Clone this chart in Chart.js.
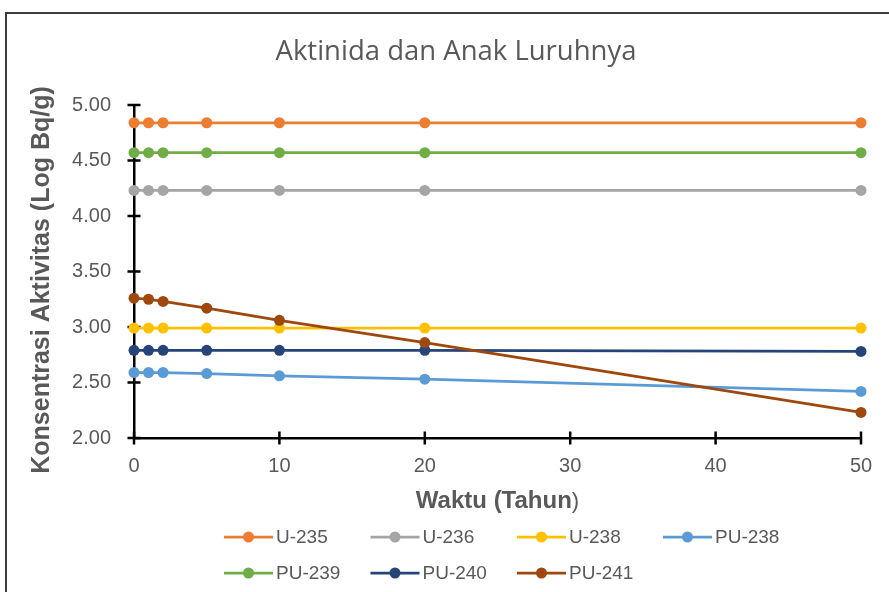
<!DOCTYPE html>
<html>
<head>
<meta charset="utf-8">
<script src="https://cdn.jsdelivr.net/npm/chart.js@4.4.1/dist/chart.umd.min.js"></script>
<style>
  html, body { margin: 0; padding: 0; background: #ffffff; overflow: hidden; }
  #wrap { position: relative; width: 889px; height: 592px; }
  #frame { position: absolute; left: 5px; top: 12px; width: 900px; height: 600px;
           border: 2px solid #3c3c3c; box-sizing: border-box; pointer-events: none; }
  canvas { position: absolute; left: 0; top: 0; }
</style>
</head>
<body>
<div id="wrap">
  <canvas id="chart" width="889" height="592"></canvas>
  <div id="frame"></div>
</div>
<script>
// Time after discharge (years)
const years = [0, 1, 2, 5, 10, 20, 50];

// Activity concentration, log(Bq/g)
const u235  = [4.84, 4.84, 4.84, 4.84, 4.84, 4.84, 4.84];
const u236  = [4.23, 4.23, 4.23, 4.23, 4.23, 4.23, 4.23];
const u238  = [2.99, 2.99, 2.99, 2.99, 2.99, 2.99, 2.99];
const pu238 = [2.59, 2.59, 2.59, 2.58, 2.56, 2.53, 2.42];
const pu239 = [4.57, 4.57, 4.57, 4.57, 4.57, 4.57, 4.57];
const pu240 = [2.79, 2.79, 2.79, 2.79, 2.79, 2.79, 2.78];
const pu241 = [3.26, 3.25, 3.23, 3.17, 3.06, 2.86, 2.23];

const seriesNames  = ['U-235', 'U-236', 'U-238', 'PU-238', 'PU-239', 'PU-240', 'PU-241'];
const seriesValues = [u235, u236, u238, pu238, pu239, pu240, pu241];
const seriesColors = ['#ED7D31', '#A5A5A5', '#FFC000', '#5B9BD5', '#70AD47', '#264478', '#9E480E'];

const chartTitle = 'Aktinida dan Anak Luruhnya';
const yTitle = 'Konsentrasi Aktivitas (Log Bq/g)';
const xTitleMain = 'Waktu (Tahun';
const xTitleEnd = ')';

const TEXT = '#595959';
const SANS = "'Liberation Sans', Arial, sans-serif";

const datasets = seriesNames.map((name, i) => ({
  label: name,
  data: years.map((x, k) => ({ x: x, y: seriesValues[i][k] })),
  borderColor: seriesColors[i],
  backgroundColor: seriesColors[i],
  pointBackgroundColor: seriesColors[i],
  pointBorderColor: seriesColors[i],
  borderWidth: 2.75,
  pointRadius: 5.5,
  pointBorderWidth: 0,
  tension: 0,
  clip: false,
  order: seriesNames.length - 1 - i   // later series sit on top
}));

// Axis ticks crossing the axis lines
const crossTicks = {
  id: 'crossTicks',
  beforeDatasetsDraw(chart) {
    const { ctx, scales: { x, y } } = chart;
    ctx.save();
    ctx.strokeStyle = '#000000';
    ctx.lineWidth = 2.5;
    ctx.beginPath();
    y.ticks.forEach(t => {
      const py = y.getPixelForValue(t.value);
      ctx.moveTo(x.left - 6.5, py);
      ctx.lineTo(x.left + 6.5, py);
    });
    x.ticks.forEach(t => {
      const px = x.getPixelForValue(t.value);
      ctx.moveTo(px, y.bottom - 6.5);
      ctx.lineTo(px, y.bottom + 6.5);
    });
    ctx.stroke();
    ctx.restore();
  }
};

// Title, axis titles and the two-row legend
const decorations = {
  id: 'decorations',
  afterDraw(chart) {
    const { ctx, chartArea } = chart;
    ctx.save();
    ctx.fillStyle = TEXT;

    // chart title
    ctx.font = "27.5px 'Open Sans', sans-serif";
    ctx.textAlign = 'center';
    ctx.textBaseline = 'alphabetic';
    ctx.fillText(chartTitle, 456, 60);

    // y axis title
    ctx.save();
    ctx.translate(49, 280);
    ctx.rotate(-Math.PI / 2);
    ctx.font = 'bold 25px ' + SANS;
    ctx.textAlign = 'center';
    ctx.fillText(yTitle, 0, 0);
    ctx.restore();

    // x axis title
    const cx = (chartArea.left + chartArea.right) / 2;
    ctx.textAlign = 'left';
    ctx.font = 'bold 24px ' + SANS;
    const wMain = ctx.measureText(xTitleMain).width;
    ctx.font = '22px ' + SANS;
    const wEnd = ctx.measureText(xTitleEnd).width;
    const x0 = cx - (wMain + wEnd) / 2;
    ctx.font = 'bold 24px ' + SANS;
    ctx.fillText(xTitleMain, x0, 508);
    ctx.font = '22px ' + SANS;
    ctx.fillText(xTitleEnd, x0 + wMain, 508);

    // legend
    const colX = [224, 370.5, 517, 663];
    const rowY = [537, 573];
    chart.data.datasets.forEach((ds, i) => {
      const lx = colX[i % 4];
      const ly = rowY[Math.floor(i / 4)];
      ctx.strokeStyle = ds.borderColor;
      ctx.lineWidth = 2.75;
      ctx.beginPath();
      ctx.moveTo(lx, ly);
      ctx.lineTo(lx + 49, ly);
      ctx.stroke();
      ctx.fillStyle = ds.borderColor;
      ctx.beginPath();
      ctx.arc(lx + 24.5, ly, 5.5, 0, Math.PI * 2);
      ctx.fill();
      ctx.fillStyle = TEXT;
      ctx.font = '19px ' + SANS;
      ctx.textBaseline = 'middle';
      ctx.fillText(ds.label, lx + 52, ly + 1);
      ctx.textBaseline = 'alphabetic';
    });
    ctx.restore();
  }
};

new Chart(document.getElementById('chart'), {
  type: 'line',
  data: { datasets: datasets },
  options: {
    responsive: false,
    animation: false,
    events: [],
    layout: { padding: { left: 0, top: 105, right: 28, bottom: 0 } },
    plugins: {
      legend: { display: false },
      title: { display: false },
      tooltip: { enabled: false }
    },
    scales: {
      x: {
        type: 'linear',
        min: 0,
        max: 50,
        afterFit(scale) { scale.height = 154; },
        border: { display: true, color: '#000000', width: 2.5 },
        grid: { drawOnChartArea: false, drawTicks: false, color: 'rgba(0,0,0,0)' },
        ticks: {
          stepSize: 10,
          padding: 16,
          color: TEXT,
          font: { family: SANS, size: 20 }
        }
      },
      y: {
        min: 2,
        max: 5,
        afterFit(scale) { scale.width = 134; },
        border: { display: true, color: '#000000', width: 2.5 },
        grid: { drawOnChartArea: false, drawTicks: false, color: 'rgba(0,0,0,0)' },
        ticks: {
          stepSize: 0.5,
          padding: 23,
          color: TEXT,
          font: { family: SANS, size: 20 },
          callback: v => Number(v).toFixed(2)
        }
      }
    }
  },
  plugins: [crossTicks, decorations]
});
</script>
</body>
</html>
